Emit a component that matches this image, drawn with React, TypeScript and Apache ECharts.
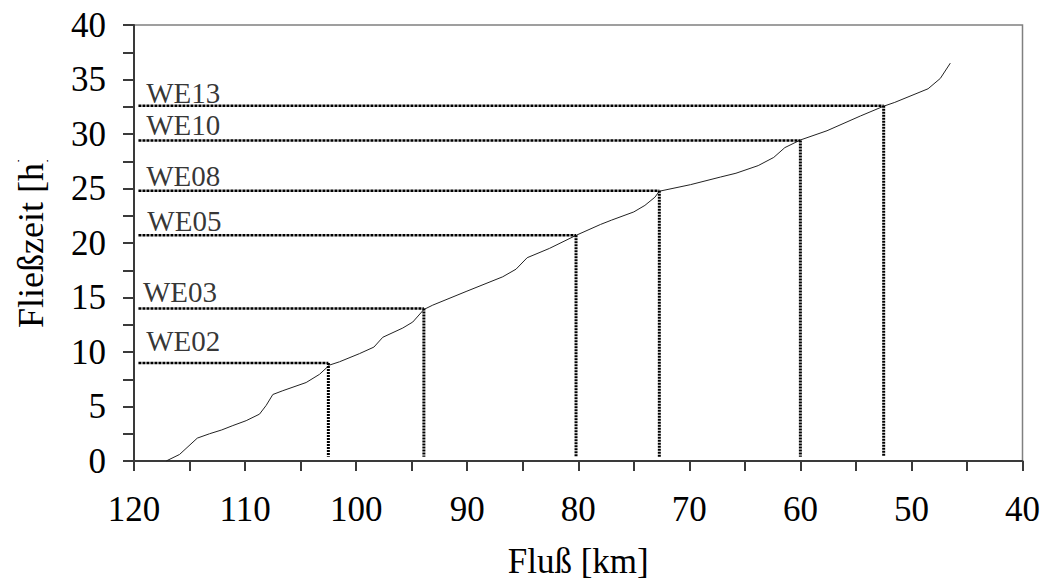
import React, { useEffect, useRef } from "react";
import * as echarts from "echarts";

// Flow-time curve: river kilometre vs. flow time in hours
const riverKm = [
  117.1, 115.9, 114.3, 113.2, 112.1, 111.1, 109.9, 108.7, 108.1, 107.5, 106.6,
  104.5, 103.3, 102.4, 101.5, 99.7, 98.4, 97.6, 95.8, 94.9, 93.9, 93.1, 90.1,
  86.8, 85.6, 84.6, 82.6, 80.2, 78.0, 77.0, 75.0, 74.0, 73.1, 72.7, 69.9, 67.2,
  65.8, 63.8, 62.4, 61.4, 60.0, 57.6, 54.6, 52.5, 51.5, 48.5, 47.4, 46.5,
];
const flowHours = [
  0, 0.6, 2.1, 2.5, 2.85, 3.25, 3.7, 4.3, 5.1, 6.1, 6.45, 7.2, 7.95, 8.8, 9.1,
  9.85, 10.45, 11.35, 12.2, 12.75, 13.9, 14.3, 15.55, 16.9, 17.6, 18.65, 19.5,
  20.7, 21.7, 22.1, 22.85, 23.45, 24.2, 24.75, 25.35, 26.05, 26.4, 27.1, 27.85,
  28.75, 29.45, 30.3, 31.65, 32.55, 32.9, 34.15, 35.1, 36.5,
];

// Gauges (Wehre)
const gaugeNames = ["WE02", "WE03", "WE05", "WE08", "WE10", "WE13"];
const gaugeKm = [102.5, 93.9, 80.2, 72.7, 60.0, 52.5];
const gaugeHours = [9.0, 14.0, 20.7, 24.8, 29.4, 32.6];
const gaugeLabelKm = [118.9, 119.2, 118.8, 118.9, 118.9, 118.9];
const gaugeLabelHours = [10.1, 14.65, 21.15, 25.25, 29.95, 32.85];
const leaderStartKm = 119.6;
const dropEndHours = 0.4;

// Tick labels
const xTickLabels = [120, 110, 100, 90, 80, 70, 60, 50, 40];
const yTickLabels = [0, 5, 10, 15, 20, 25, 30, 35, 40];

const FONT = '"Liberation Serif", "Times New Roman", Times, serif';

export default function App() {
  const ref = useRef<HTMLDivElement>(null);

  useEffect(() => {
    if (!ref.current) return;
    const chart = echarts.init(ref.current, undefined, { renderer: "svg" });

    const series: any[] = [
      {
        type: "line",
        name: "Fließzeit",
        data: riverKm.map((k, i) => [k, flowHours[i]]),
        showSymbol: false,
        symbol: "none",
        lineStyle: { color: "#222", width: 1 },
        z: 3,
      },
    ];

    gaugeNames.forEach((name, i) => {
      series.push({
        type: "line",
        name: name + "-h",
        data: [
          [leaderStartKm, gaugeHours[i]],
          [gaugeKm[i], gaugeHours[i]],
        ],
        symbol: "none",
        lineStyle: { color: "#000", width: 2.5, type: [3, 1] },
        z: 4,
      });
      series.push({
        type: "line",
        name: name + "-v",
        data: [
          [gaugeKm[i], gaugeHours[i]],
          [gaugeKm[i], dropEndHours],
        ],
        symbol: "none",
        lineStyle: { color: "#000", width: 3, type: [2, 1] },
        z: 4,
      });
    });

    series.push({
      type: "scatter",
      name: "labels",
      symbolSize: 0,
      data: gaugeNames.map((n, i) => ({
        value: [gaugeLabelKm[i], gaugeLabelHours[i]],
        name: n,
      })),
      label: {
        show: true,
        position: "right",
        distance: 0,
        formatter: (p: any) => p.name,
        verticalAlign: "bottom",
        offset: [0, 5],
        fontFamily: FONT,
        fontSize: 29,
        color: "#000",
      },
      silent: true,
      z: 5,
    });

    chart.setOption({
      animation: false,
      backgroundColor: "#fff",
      grid: {
        left: 134,
        right: 18,
        top: 25,
        bottom: 120,
        show: true,
        borderColor: "#808080",
        borderWidth: 1.5,
        containLabel: false,
      },
      xAxis: {
        type: "value",
        min: 40,
        max: 120,
        interval: 5,
        inverse: true,
        name: "Fluß [km]",
        nameLocation: "middle",
        nameGap: 83,
        nameTextStyle: { fontFamily: FONT, fontSize: 35, color: "#000" },
        axisLine: { onZero: false, lineStyle: { color: "#3a3a3a", width: 2 } },
        axisTick: { show: true, inside: false, length: 10, lineStyle: { color: "#3a3a3a", width: 2 } },
        splitLine: { show: false },
        axisLabel: {
          fontFamily: FONT,
          fontSize: 35,
          color: "#000",
          margin: 31,
          showMinLabel: true,
          showMaxLabel: true,
          formatter: (v: number) => (xTickLabels.includes(v) ? String(v) : ""),
        },
      },
      yAxis: {
        type: "value",
        min: 0,
        max: 40,
        interval: 2.5,
        axisLine: { show: true, onZero: false, lineStyle: { color: "#3a3a3a", width: 2 } },
        axisTick: { show: true, inside: false, length: 11, lineStyle: { color: "#3a3a3a", width: 2 } },
        splitLine: { show: false },
        axisLabel: {
          fontFamily: FONT,
          fontSize: 35,
          color: "#000",
          margin: 28,
          showMinLabel: true,
          showMaxLabel: true,
          formatter: (v: number) => (yTickLabels.includes(v) ? String(v) : ""),
        },
      },
      graphic: [
        {
          type: "text",
          x: 31,
          y: 328,
          rotation: Math.PI / 2,
          z: 100,
          style: {
            text: "Fließzeit [h]",
            fontFamily: FONT,
            fontSize: 36,
            fill: "#000",
            textAlign: "left",
            textVerticalAlign: "middle",
          },
        },
        {
          type: "rect",
          z: 200,
          shape: { x: 0, y: 0, width: 62, height: 160 },
          style: { fill: "#fff" },
        },
      ],
      series,
    });

    return () => chart.dispose();
  }, []);

  return (
    <div
      ref={ref}
      style={{ position: "fixed", left: 0, top: 0, width: 1043, height: 584 }}
    />
  );
}
